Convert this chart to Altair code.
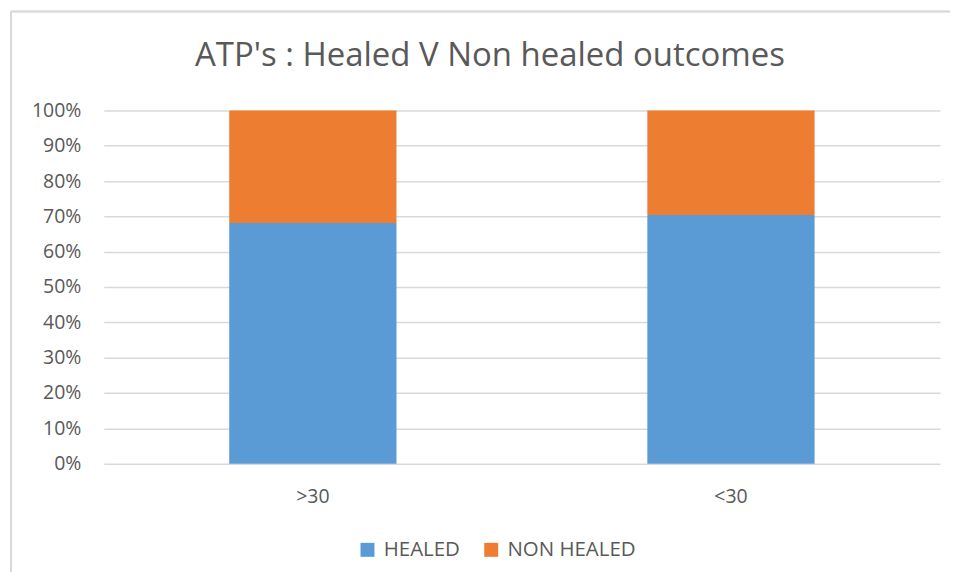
import altair as alt
import pandas as pd

categories = [">30", "<30"]
series = ["HEALED", "NON HEALED"]
healed = [68.1, 70.4]
non_healed = [31.9, 29.6]
colors = ["#5B9BD5", "#ED7D31"]
y_ticks = [0, 0.1, 0.2, 0.3, 0.4, 0.5, 0.6, 0.7, 0.8, 0.9, 1.0]

rows = []
for i, c in enumerate(categories):
    rows.append({"cat": c, "series": series[0], "value": healed[i], "ord": 0})
    rows.append({"cat": c, "series": series[1], "value": non_healed[i], "ord": 1})
df = pd.DataFrame(rows)

FONT = "Open Sans"
GRAY = "#595959"
GRID = "#d9d9d9"

bars = alt.Chart(df).mark_bar().encode(
    x=alt.X("cat:N", sort=categories, title=None,
            scale=alt.Scale(paddingInner=0.6, paddingOuter=0.3),
            axis=alt.Axis(labelAngle=0, ticks=False, domain=False, labelFont=FONT,
                          labelFontSize=19.5, labelColor=GRAY, labelPadding=24)),
    y=alt.Y("value:Q", stack="normalize", title=None,
            scale=alt.Scale(domain=[0, 1]),
            axis=alt.Axis(format=".0%", values=y_ticks, ticks=False, domain=False,
                          labelFont=FONT, labelFontSize=19.5, labelColor=GRAY,
                          labelPadding=23, gridColor=GRID, gridWidth=1.5)),
    color=alt.Color("series:N", scale=alt.Scale(domain=series, range=colors),
                    legend=alt.Legend(title=None, orient="none", direction="horizontal",
                                      legendX=254, legendY=430, symbolType="square",
                                      symbolSize=196, symbolStrokeWidth=0,
                                      labelFont=FONT, labelFontSize=20.5, labelColor=GRAY,
                                      labelOffset=6, columnPadding=21, padding=0)),
    order=alt.Order("ord:Q", sort="ascending"),
)

border_left = alt.Chart(df).mark_rule(color=GRID, strokeWidth=1.5).encode(
    x=alt.value(-93), y=alt.value(-99), y2=alt.value(470))
border_top = alt.Chart(df).mark_rule(color=GRID, strokeWidth=1.5).encode(
    x=alt.value(-93), x2=alt.value(900), y=alt.value(-99))

chart = alt.layer(bars, border_left, border_top).properties(
    width=838, height=354,
    title=alt.TitleParams("ATP's : Healed V Non healed outcomes", font=FONT,
                          fontSize=33, fontWeight="normal", color=GRAY,
                          anchor="middle", dx=-32, offset=-88, baseline="alphabetic"),
    autosize=alt.AutoSizeParams(type="none"),
    padding={"left": 96, "top": 102, "right": 10, "bottom": 108},
).configure_view(strokeWidth=0)

chart.save("out.html", embed_options={"renderer": "svg", "actions": False})
